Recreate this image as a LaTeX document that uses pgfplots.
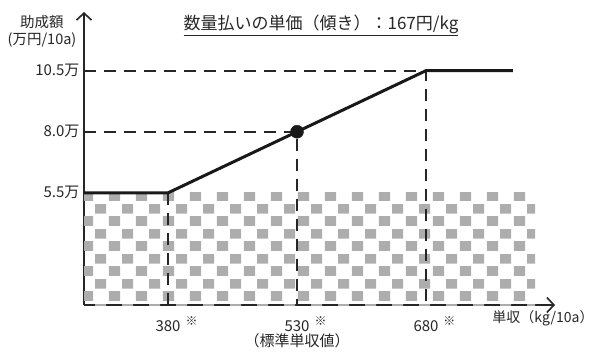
\documentclass[border=0pt]{standalone}
\usepackage{fontspec}
\setmainfont{Noto Sans CJK JP}
\usepackage{pgfplots}
\pgfplotsset{compat=1.18}
\usetikzlibrary{arrows.meta,patterns}
\pgfdeclarepatternformonly{mycheck}{\pgfpointorigin}{\pgfpoint{27pt}{25pt}}{\pgfpoint{27pt}{25pt}}{%
  \pgfpathrectangle{\pgfpoint{1pt}{1.2pt}}{\pgfpoint{11.5pt}{10pt}}%
  \pgfpathrectangle{\pgfpoint{14.5pt}{13.7pt}}{\pgfpoint{11.5pt}{10pt}}%
  \pgfusepath{fill}}
\newcommand{\kome}{\rlap{\hspace{5pt}\raisebox{6pt}{\fontsize{12}{12}\selectfont ※}}}
\begin{document}
\begin{tikzpicture}
\path[use as bounding box] (0,0) rectangle (599pt,351pt);
\begin{axis}[
  at={(84pt,46pt)}, anchor=south west, scale only axis,
  width=471pt, height=293pt,
  xmin=282.3, xmax=830, ymin=0.91, ymax=12.9,
  axis lines=left,
  axis line style={line width=1.8pt, black!85, -{Straight Barb[length=7pt,width=15pt,line width=1.6pt]}},
  xtick={380,530,680},
  xticklabels={{380\kome},{530\kome\\[-1pt]（標準単収値）},{680\kome}},
  ytick={5.5,8,10.5},
  yticklabels={5.5万,8.0万,10.5万},
  major tick length=0pt, tick style={draw=none},
  xticklabel style={font=\fontsize{15}{16}\selectfont, text=black!85, yshift=-8pt, align=center},
  yticklabel style={font=\fontsize{15}{16}\selectfont, text=black!85, xshift=-1pt},
]
\addplot[draw=none, pattern=mycheck, pattern color=black!32] coordinates {(282.3,0.91) (282.3,5.5) (807,5.5) (807,0.91)} -- cycle;
\addplot[black!85, line width=1.8pt, dash pattern=on 12pt off 8pt] coordinates {(282.3,10.5) (680,10.5) (680,0.91)};
\addplot[black!85, line width=1.8pt, dash pattern=on 12pt off 8pt] coordinates {(282.3,8) (530,8) (530,0.91)};
\addplot[black!85, line width=1.8pt, dash pattern=on 12pt off 8pt] coordinates {(380,5.5) (380,0.91)};
\addplot[black!90, line width=3pt] coordinates {(282.3,5.5) (380,5.5) (680,10.5) (781,10.5)};
\addplot[black!90, only marks, mark=*, mark size=6.5pt] coordinates {(530,8)};
\end{axis}
\node[font=\fontsize{17}{19}\selectfont, text=black!85] at (321pt,326pt) {\underline{数量払いの単価（傾き）：167円/kg}};
\node[font=\fontsize{14.5}{17}\selectfont, text=black!85, align=center] at (42pt,320pt) {助成額\\(万円/10a)};
\node[font=\fontsize{14}{15}\selectfont, text=black!85] at (543pt,33pt) {単収（kg/10a）};
\end{tikzpicture}
\end{document}
